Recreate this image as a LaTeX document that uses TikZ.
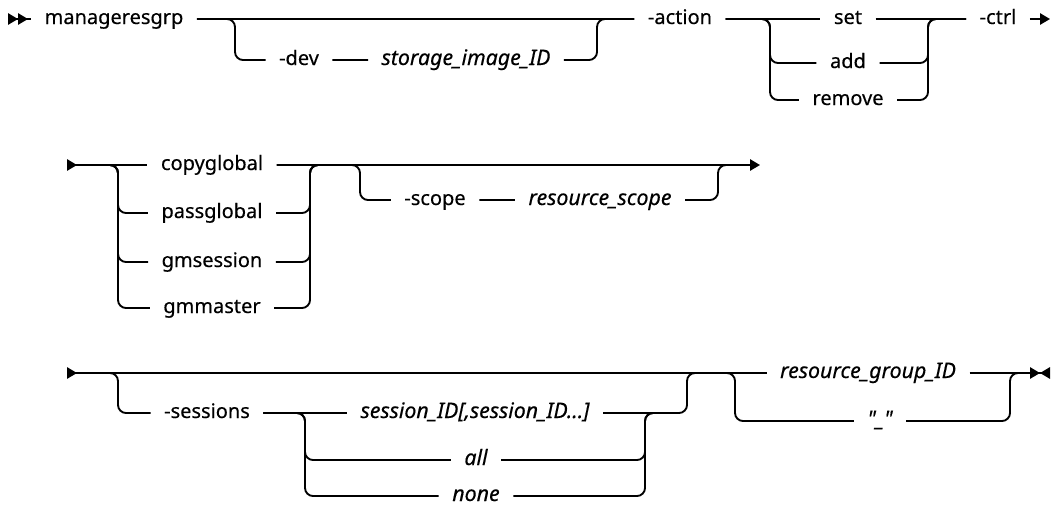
\documentclass[tikz,border=0pt]{standalone}
\usepackage{fontspec}
\newfontfamily\railfont[FakeBold=0.4]{Noto Sans}
\usepackage{tikz}
\usetikzlibrary{arrows.meta}

\tikzset{
  rail/.style={line width=1.4pt, rounded corners=6pt},
  kw/.style={font=\railfont\fontsize{15}{17}\selectfont, inner xsep=10pt, inner ysep=0pt,
    text height=9.5pt, text depth=2pt},
  var/.style={kw, font=\railfont\fontsize{16}{18}\selectfont\itshape},
}

\begin{document}
\begin{tikzpicture}[x=0.75pt,y=-0.75pt,>={Triangle[length=7.5pt,width=8.5pt]}]
  \useasboundingbox (0,0) rectangle (1058,508);
  % first line
  \coordinate (beg1) at (8,19); \coordinate (fin1) at (1050,19);
  \coordinate (a1) at (235,19); \coordinate (a2) at (597,19);
  \coordinate (o1) at (770,19); \coordinate (o2) at (928,19);
  \node[kw] (cmd) at (114,19) {manageresgrp};
  \node[kw] (dev) at (299,60) {-dev};
  \node[var] (devid) at (466,60) {storage\_image\_ID};
  \node[kw] (action) at (680,19) {-action};
  \node[kw] (set) at (848,19) {set};
  \node[kw] (add) at (848,63) {add};
  \node[kw] (remove) at (848,100) {remove};
  \node[kw] (ctrl) at (998,19) {-ctrl};
  \draw[rail,>>-] (beg1) -- (cmd.west);
  \draw[rail] (cmd) -- (action) (cmd.east) -- (a1) |- (dev.west) (dev) -- (devid) (devid.east) -| (a2) -- (action.west);
  \draw[rail] (action) -- (set) (set) -- (ctrl);
  \foreach \v in {add,remove}
    \draw[rail] (action.east) -- (o1) |- (\v.west) (\v.east) -| (o2) -- (ctrl.west);
  \draw[rail,->] (ctrl) -- (fin1);
  % second line
  \coordinate (beg2) at (67,165); \coordinate (fin2) at (760,165);
  \coordinate (b1) at (118,165); \coordinate (b2) at (310,165);
  \coordinate (c1) at (360,165); \coordinate (c2) at (718,165);
  \node[kw] (copyglobal) at (212,165) {copyglobal};
  \node[kw] (passglobal) at (212,213) {passglobal};
  \node[kw] (gmsession) at (212,262) {gmsession};
  \node[kw] (gmmaster) at (212,308) {gmmaster};
  \node[kw] (scope) at (435,200) {-scope};
  \node[var] (scopeid) at (600,200) {resource\_scope};
  \draw[rail,>-] (beg2) -- (copyglobal.west);
  \draw[rail,->] (copyglobal) -- (fin2);
  \foreach \v in {passglobal,gmsession,gmmaster}
    \draw[rail] (beg2) -- (b1) |- (\v.west) (\v.east) -| (b2) -- ++(12,0);
  \draw[rail] (copyglobal.east) -- (c1) |- (scope.west) (scope) -- (scopeid) (scopeid.east) -| (c2) -- ++(12,0);
  % third line
  \coordinate (beg3) at (67,373); \coordinate (fin3) at (1050,373);
  \coordinate (d1) at (118,373); \coordinate (d2) at (687,373);
  \coordinate (e1) at (305,413); \coordinate (e2) at (645,413);
  \coordinate (f1) at (735,373); \coordinate (f2) at (1010,373);
  \node[kw] (sessions) at (207,413) {-sessions};
  \node[var] (sid) at (475,413) {session\_ID[,session\_ID...]};
  \node[var] (all) at (476,460) {all};
  \node[var] (none) at (476,496) {none};
  \node[var] (rgid) at (868,373) {resource\_group\_ID};
  \node[var] (dash) at (880,421) {"\_"};
  \draw[rail,>-] (beg3) -- (rgid.west);
  \draw[rail] (beg3) -- (d1) |- (sessions.west) (sessions) -- (sid) (sid.east) -| (d2) -- ++(12,0);
  \foreach \v in {all,none}
    \draw[rail] (sessions.east) -- (e1) |- (\v.west) (\v.east) -| (e2) -- ++(12,0);
  \draw[rail] (d2) -- (f1) |- (dash.west) (dash.east) -| (f2) -- ++(12,0);
  \draw[rail,-><] (rgid) -- (fin3);
\end{tikzpicture}
\end{document}
